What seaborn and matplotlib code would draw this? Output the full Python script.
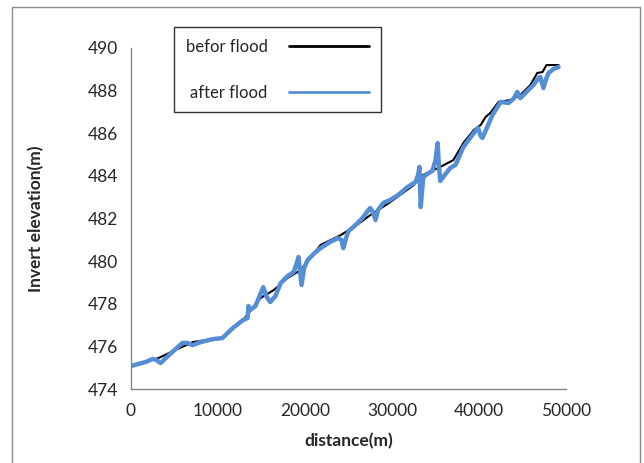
import matplotlib
matplotlib.use("Agg")
import pandas as pd
import matplotlib.pyplot as plt
import seaborn as sns
from matplotlib.patches import Rectangle

# profile before the flood (distance in m, invert elevation in m)
dist_before = [0, 3150, 5100, 7100, 9400, 10500, 11700, 12900, 14900, 16400,
               18000, 19500, 21800, 24100, 25800, 27500, 29800, 32500, 33300,
               35550, 37050, 38200, 39400, 40200, 40750, 41300, 42250, 43600,
               44750, 45900, 46700, 47300, 47750, 49150]
elev_before = [475.08, 475.45, 475.83, 476.20, 476.34, 476.39, 476.86, 477.24,
               478.27, 478.64, 479.21, 479.58, 480.76, 481.22, 481.65, 482.16,
               482.77, 483.57, 483.99, 484.42, 484.74, 485.54, 486.15, 486.39,
               486.76, 486.95, 487.47, 487.56, 487.79, 488.26, 488.83, 488.87,
               489.20, 489.20]

# profile after the flood
dist_after = [0, 1700, 2500, 2900, 3400, 4500, 5900, 6500, 7100, 8000, 9400,
              10500, 11700, 12900, 13400, 13500, 13700, 14300, 15200, 15600,
              16000, 16600, 17200, 18000, 18700, 19100, 19250, 19600, 19900,
              20300, 21100, 21800, 22900, 23800, 24200, 24400, 24800, 25000,
              25800, 26600, 27300, 27500, 27800, 28100, 28400, 29000, 29800,
              30700, 31800, 32700, 33000, 33150, 33300, 33600, 34200, 34650,
              35000, 35250, 35350, 35550, 36150, 36700, 37300, 38200, 39400,
              39900, 40200, 40400, 41000, 41550, 42500, 43400, 43950, 44400,
              44750, 45550, 46250, 46850, 47050, 47400, 47750, 48000, 48550,
              49150]
elev_after = [475.08, 475.27, 475.41, 475.36, 475.22, 475.64, 476.16, 476.16,
              476.06, 476.20, 476.34, 476.39, 476.86, 477.24, 477.33, 477.89,
              477.71, 477.89, 478.78, 478.32, 478.08, 478.36, 478.97, 479.30,
              479.49, 479.96, 480.19, 478.88, 479.68, 480.05, 480.38, 480.61,
              480.90, 481.08, 480.99, 480.61, 481.18, 481.41, 481.69, 482.02,
              482.40, 482.49, 482.30, 481.93, 482.40, 482.73, 482.87, 483.10,
              483.48, 483.71, 484.04, 484.42, 482.54, 483.95, 484.13, 484.23,
              484.74, 485.54, 484.74, 483.76, 484.09, 484.37, 484.51, 485.35,
              486.01, 486.25, 485.87, 485.78, 486.34, 486.86, 487.47, 487.42,
              487.61, 487.94, 487.65, 487.98, 488.26, 488.59, 488.64, 488.12,
              488.59, 488.83, 489.01, 489.11]

x_ticks = [0, 10000, 20000, 30000, 40000, 50000]
y_ticks = [474, 476, 478, 480, 482, 484, 486, 488, 490]

sns.set_style("white")
plt.rcParams["font.family"] = ["Lato", "DejaVu Sans"]

fig = plt.figure(figsize=(6.44, 4.63), dpi=100)
ax = fig.add_axes([131 / 644, 1 - 389 / 463, 435 / 644, 341 / 463])

before = pd.DataFrame({"distance": dist_before, "elevation": elev_before})
after = pd.DataFrame({"distance": dist_after, "elevation": elev_after})

sns.lineplot(data=before, x="distance", y="elevation", color="black",
             linewidth=1.5, label="befor flood", sort=False, estimator=None, ax=ax)
sns.lineplot(data=after, x="distance", y="elevation", color="#558ED5",
             linewidth=3.2, label="after flood", sort=False, estimator=None, ax=ax)

ax.set_xlim(0, 50000)
ax.set_ylim(474, 490)
ax.set_xticks(x_ticks)
ax.set_yticks(y_ticks)
ax.tick_params(axis="both", direction="out", length=5, width=1,
               color="#868686", labelsize=12.5, pad=4)
ax.tick_params(axis="x", pad=5)
for side in ["top", "right"]:
    ax.spines[side].set_visible(False)
for side in ["left", "bottom"]:
    ax.spines[side].set_color("#868686")
    ax.spines[side].set_linewidth(1)

ax.set_xlabel("distance(m)", fontweight="bold", fontsize=12.5)
ax.set_ylabel("Invert elevation(m)", fontweight="bold", fontsize=12.5)
ax.xaxis.set_label_coords(0.5, -0.13)
ax.yaxis.set_label_coords(-0.2, 0.5)

leg = ax.legend(loc="upper left", bbox_to_anchor=(174 / 644, 1 - 27 / 463),
                bbox_transform=fig.transFigure, markerfirst=False,
                fontsize=12, handlelength=4.8, handletextpad=1.3,
                labelspacing=1.8, borderpad=0.7, borderaxespad=0,
                fancybox=False, frameon=True)
leg.get_frame().set_edgecolor("black")
leg.get_frame().set_linewidth(1)
for line in leg.get_lines():
    line.set_linewidth(2)

# outer chart border
fig.patches.append(Rectangle((12 / 644, -0.05), 628 / 644, 1 - 7 / 463 + 0.05,
                             transform=fig.transFigure, fill=False,
                             edgecolor="#8c8c8c", linewidth=1))

fig.savefig("out.png", dpi=100)
